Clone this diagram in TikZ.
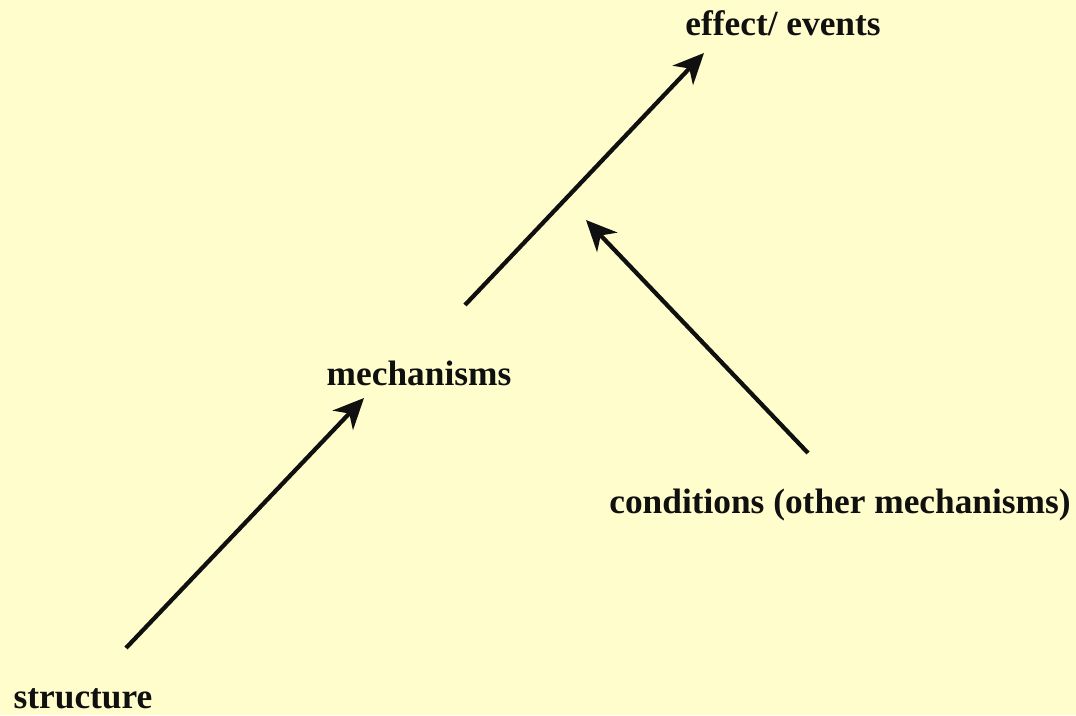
\documentclass[tikz,border=0pt]{standalone}
\usepackage{fontspec}
\setmainfont{Liberation Serif}
\usetikzlibrary{arrows.meta,positioning}
\definecolor{paper}{HTML}{FFFDCC}
\definecolor{ink}{HTML}{101010}
\tikzset{
  lbl/.style={font=\fontsize{26.5}{30}\selectfont\bfseries, text=ink, inner sep=0pt, anchor=base},
  flow/.style={-{Stealth[length=23pt, width=21pt, inset=7pt]}, draw=ink, line width=3.2pt}
}
\begin{document}
\begin{tikzpicture}[x=0.75pt, y=-0.75pt]
  \fill[paper] (0,0) rectangle (1076,715);
  \useasboundingbox (0,0) rectangle (1076,715);
  % labels
  \node[lbl] (effect) at (783,35) {effect/ events};
  \node[lbl] (mech) at (419,385) {mechanisms};
  \node[lbl] (cond) at (840,513) {conditions (other mechanisms)};
  \node[lbl] (struct) at (83,708) {structure};
  % arrow ends
  \coordinate (s0) at (126,648);
  \coordinate (s1) at (364,398);
  \coordinate (m0) at (465,305);
  \coordinate (m1) at (704,53);
  \coordinate (c0) at (808,453);
  \coordinate (c1) at (586,220);
  \draw[flow] (s0) -- (s1);
  \draw[flow] (m0) -- (m1);
  \draw[flow] (c0) -- (c1);
\end{tikzpicture}
\end{document}
